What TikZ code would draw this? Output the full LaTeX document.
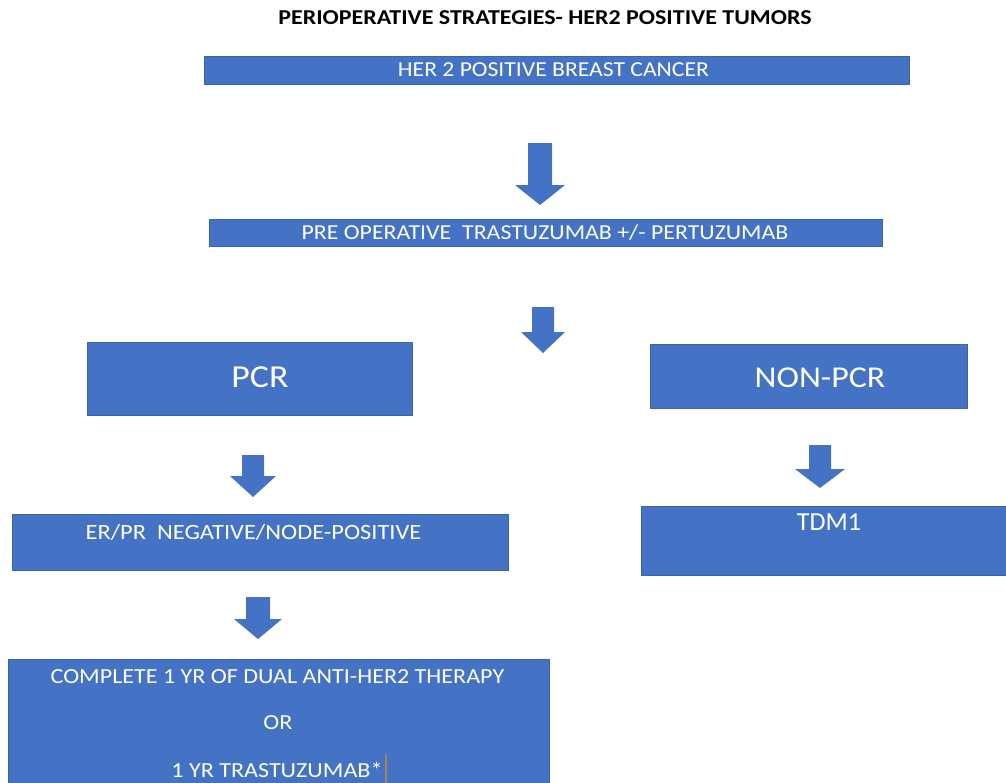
\documentclass[tikz,border=0pt]{standalone}
\usepackage{graphicx}
\usepackage{fontspec}
\setmainfont{Carlito}
\usetikzlibrary{calc}
\definecolor{officeblue}{HTML}{4472C4}
\definecolor{edgeblue}{HTML}{3A64B0}
\definecolor{cursorc}{HTML}{A8834A}
\tikzset{
  box/.style={fill=officeblue, draw=edgeblue, line width=0.8pt, inner sep=0pt},
  boxtext/.style={text=white, inner sep=0pt, align=center},
  arrowfill/.style={fill=officeblue}
}
\newcommand{\wtext}[3]{\scalebox{#2}[1]{\fontsize{#1}{#1}\selectfont #3}}
\newcommand{\blockarr}[5]{%
  \fill[arrowfill] let \p1=(#1), \p2=(#2) in
    (\x1-#3,\y1) -- (\x1+#3,\y1) -- (\x1+#3,\y2+#5) -- (\x1+#4,\y2+#5) --
    (\x1,\y2) -- (\x1-#4,\y2+#5) -- (\x1-#3,\y2+#5) -- cycle;}
\begin{document}
\begin{tikzpicture}[x=1pt,y=-1pt]
\useasboundingbox (0,0) rectangle (1006,782);
\clip (0,0) rectangle (1006,782);
% title
\node[inner sep=0pt] (title) at (545,18) {\wtext{21.2}{1.13}{\bfseries PERIOPERATIVE STRATEGIES- HER2 POSITIVE TUMORS}};
% boxes
\node[box, minimum width=705pt, minimum height=28pt] (b1) at (556.5,70) {};
\node[boxtext] (b1t) at (553.5,70) {\wtext{21.3}{1.11}{HER 2 POSITIVE BREAST CANCER}};
\node[box, minimum width=673pt, minimum height=27pt] (b2) at (545.5,233) {};
\node[boxtext] (b2t) at (545,233) {\wtext{21.3}{1.12}{PRE OPERATIVE\ \ TRASTUZUMAB +/- PERTUZUMAB}};
\node[box, minimum width=325pt, minimum height=73pt] (pcr) at (249.5,379) {};
\node[boxtext] (pcrt) at (260,377) {\wtext{32}{1.12}{PCR}};
\node[box, minimum width=317pt, minimum height=64pt] (npcr) at (808.5,376) {};
\node[boxtext] (npcrt) at (820,378) {\wtext{30.3}{1.12}{NON-PCR}};
\node[box, minimum width=496pt, minimum height=56pt] (erpr) at (260,542) {};
\node[boxtext] (erprt) at (253.5,532) {\wtext{21.8}{1.12}{ER/PR\ \ NEGATIVE/NODE-POSITIVE}};
\node[box, minimum width=370pt, minimum height=69pt] (tdm) at (826,540.5) {};
\node[boxtext] (tdmt) at (829,522) {\wtext{26}{1.0}{TDM1}};
\node[box, minimum width=541pt, minimum height=160pt] (fin) at (278.5,739) {};
\node[boxtext] (fin1) at (277.5,677) {\wtext{21.5}{1.12}{COMPLETE 1 YR OF DUAL ANTI-HER2 THERAPY}};
\node[boxtext] (fin2) at (278,723) {\wtext{21.5}{1.12}{OR}};
\node[boxtext] (fin3) at (277,770) {\wtext{21.5}{1.12}{1 YR TRASTUZUMAB*}};
\draw[cursorc, line width=2pt] ($(fin3.east)+(3,-16)$) -- ($(fin3.east)+(3,14)$);
% arrow anchor coordinates
\coordinate (a1s) at (540,143); \coordinate (a1e) at (540,205);
\coordinate (a2s) at (543,307); \coordinate (a2e) at (543,353);
\coordinate (a3s) at (253,455); \coordinate (a3e) at (253,497);
\coordinate (a4s) at (820,445); \coordinate (a4e) at (820,488);
\coordinate (a5s) at (258,597); \coordinate (a5e) at (258,639);
\blockarr{a1s}{a1e}{12}{25}{20}
\blockarr{a2s}{a2e}{11}{22}{21}
\blockarr{a3s}{a3e}{11}{23}{21}
\blockarr{a4s}{a4e}{11}{25}{19}
\blockarr{a5s}{a5e}{12}{24}{20}
\end{tikzpicture}
\end{document}
